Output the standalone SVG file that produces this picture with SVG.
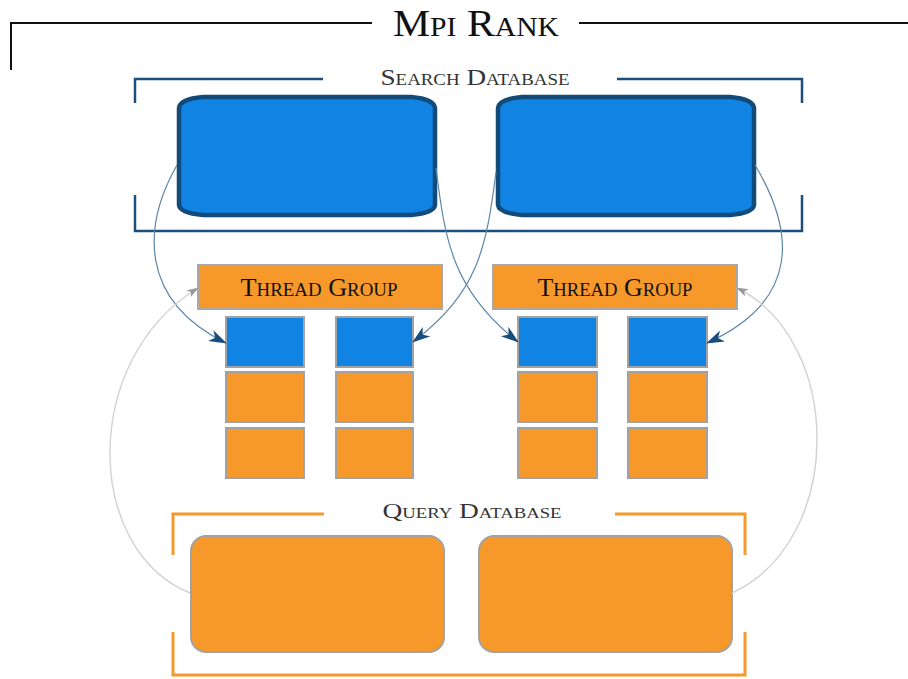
<svg xmlns="http://www.w3.org/2000/svg" width="908" height="679" viewBox="0 0 908 679">
  <style>
    .label { font-family: "Liberation Serif", "DejaVu Serif", serif; font-variant: small-caps; text-anchor: middle; }
    .frame { fill: none; stroke: #111; stroke-width: 2; }
    .sframe { fill: none; stroke: #1b4f7c; stroke-width: 2.5; }
    .qframe { fill: none; stroke: #f5992b; stroke-width: 3; }
    .snode { fill: #1183e3; stroke: #124a7a; stroke-width: 4.5; }
    .qnode { fill: #f6992a; stroke: #a2a2a2; stroke-width: 2; }
    .cell-b { fill: #1183e3; stroke: #a2a2a2; stroke-width: 2; }
    .cell-o { fill: #f6992a; stroke: #a2a2a2; stroke-width: 2; }
    .tg { fill: #f6992a; stroke: #a8a8a8; stroke-width: 2; }
    .edge-b { fill: none; stroke: #5b86ab; stroke-width: 1.2; marker-end: url(#arrowB); }
    .edge-g { fill: none; stroke: #d2d2d2; stroke-width: 1.4; marker-end: url(#arrowG); }
  </style>
  <defs>
    <marker id="arrowB" viewBox="0 0 18 12" refX="17" refY="6" markerWidth="18" markerHeight="12" markerUnits="userSpaceOnUse" orient="auto">
      <path d="M0,0 L18,6 L0,12 L5,6 Z" fill="#174d7d"/>
    </marker>
    <marker id="arrowG" viewBox="0 0 12 8" refX="11" refY="4" markerWidth="12" markerHeight="8" markerUnits="userSpaceOnUse" orient="auto">
      <path d="M0,0 L12,4 L0,8 L3,4 Z" fill="#9a9a9a"/>
    </marker>
  </defs>

  <rect width="908" height="679" fill="#ffffff"/>

  <!-- MPI rank frame -->
  <g id="mpi-rank">
    <path class="frame" d="M11,70 V23 H372 M579,23 H908"/>
    <text class="label" x="476" y="36" font-size="38" fill="#111" textLength="166" lengthAdjust="spacingAndGlyphs">Mpi Rank</text>
  </g>

  <!-- Search database -->
  <g id="search-database">
    <path class="sframe" d="M135,103 V79 H323 M617,79 H802 V103 M135,195 V231 H802 V195"/>
    <text class="label" x="475" y="85" font-size="23" fill="#333" textLength="189" lengthAdjust="spacingAndGlyphs">Search Database</text>
  </g>
  <g id="search-node-1">
    <path class="snode" d="M203,97 H411 Q434,99 435,108 V205 Q434,213 411,215 H203 Q180,213 179,205 V108 Q180,99 203,97 Z"/>
  </g>
  <g id="search-node-2">
    <path class="snode" d="M522,97 H730 Q753,99 754,108 V205 Q753,213 730,215 H522 Q499,213 498,205 V108 Q499,99 522,97 Z"/>
  </g>

  <!-- Thread group 1 -->
  <g id="thread-group-1">
    <rect class="tg" x="198" y="265" width="244" height="44"/>
    <text class="label" x="319" y="296" font-size="25" fill="#111" textLength="157" lengthAdjust="spacingAndGlyphs">Thread Group</text>
  </g>
  <g id="thread-1a">
    <rect class="cell-b" x="226" y="317" width="78" height="50"/>
    <rect class="cell-o" x="226" y="372" width="78" height="50"/>
    <rect class="cell-o" x="226" y="428" width="78" height="50"/>
  </g>
  <g id="thread-1b">
    <rect class="cell-b" x="336" y="317" width="77" height="50"/>
    <rect class="cell-o" x="336" y="372" width="77" height="50"/>
    <rect class="cell-o" x="336" y="428" width="77" height="50"/>
  </g>

  <!-- Thread group 2 -->
  <g id="thread-group-2">
    <rect class="tg" x="493" y="265" width="244" height="44"/>
    <text class="label" x="615" y="296" font-size="25" fill="#111" textLength="155" lengthAdjust="spacingAndGlyphs">Thread Group</text>
  </g>
  <g id="thread-2a">
    <rect class="cell-b" x="518" y="317" width="79" height="50"/>
    <rect class="cell-o" x="518" y="372" width="79" height="50"/>
    <rect class="cell-o" x="518" y="428" width="79" height="50"/>
  </g>
  <g id="thread-2b">
    <rect class="cell-b" x="628" y="317" width="79" height="50"/>
    <rect class="cell-o" x="628" y="372" width="79" height="50"/>
    <rect class="cell-o" x="628" y="428" width="79" height="50"/>
  </g>

  <!-- Query database -->
  <g id="query-database">
    <path class="qframe" d="M173,555 V514 H324 M615,514 H745 V555 M173,632 V675 H745 V632"/>
    <text class="label" x="472" y="518" font-size="22" fill="#333" textLength="179" lengthAdjust="spacingAndGlyphs">Query Database</text>
  </g>
  <g id="query-node-1">
    <rect class="qnode" x="191" y="536" width="253" height="116" rx="15" ry="15"/>
  </g>
  <g id="query-node-2">
    <rect class="qnode" x="479" y="536" width="253" height="116" rx="15" ry="15"/>
  </g>

  <!-- Connectors -->
  <g id="connectors">
    <path class="edge-b" d="M177,165 C143,225 138,300 226,343"/>
    <path class="edge-b" d="M436,168 C445,240 452,290 518,342"/>
    <path class="edge-b" d="M496,172 C486,250 478,292 413,342"/>
    <path class="edge-b" d="M755,165 C794,230 802,300 707,343"/>
    <path class="edge-g" d="M190,593 C84,550 80,360 198,288"/>
    <path class="edge-g" d="M732,593 C846,540 843,340 737,288"/>
  </g>
</svg>
